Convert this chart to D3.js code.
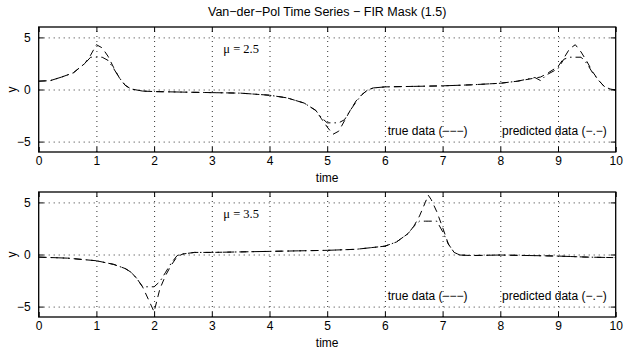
<!DOCTYPE html>
<html>
<head>
<meta charset="utf-8">
<script src="https://cdn.jsdelivr.net/npm/d3@7"></script>
<style>
  body { margin: 0; background: #fff; }
  svg text { font-family: "Liberation Sans", Arial, sans-serif; }
  .grid line { stroke: #333; stroke-dasharray: 1,4; }
  .grid path { display: none; }
  .ax path { display: none; }
  .ax line { stroke: #000; }
</style>
</head>
<body>
<div id="chart"></div>
<script>
// data
const titleText = 'Van\u2212der\u2212Pol Time Series \u2212 FIR Mask (1.5)'
const xTicks = [0, 1, 2, 3, 4, 5, 6, 7, 8, 9, 10]
const yTicks = [-5, 0, 5]
const yTickLabels = ['\u22125', '0', '5']

const timeTop = [0, 0.2, 0.4, 0.6, 0.8, 0.9, 1.0, 1.1, 1.2, 1.3, 1.4, 1.5, 1.6, 1.8, 2.0, 2.5, 3.0, 3.5, 4.0, 4.3, 4.6, 4.8, 4.9, 5.0, 5.1, 5.2, 5.3, 5.4, 5.5, 5.6, 5.7, 5.8, 6.0, 6.5, 7.0, 7.5, 8.0, 8.3, 8.6, 8.7, 8.8, 9.0, 9.1, 9.2, 9.3, 9.4, 9.5, 9.6, 9.7, 9.8, 9.9, 10.0]
const trueTop = [0.8, 0.85, 1.2, 1.6, 2.5, 3.3, 4.3, 4.0, 3.2, 2.1, 1.1, 0.4, 0.05, -0.15, -0.2, -0.25, -0.3, -0.35, -0.55, -0.8, -1.3, -2.0, -2.8, -3.6, -4.3, -4.0, -3.0, -2.0, -1.1, -0.5, -0.05, 0.15, 0.25, 0.3, 0.35, 0.45, 0.6, 0.8, 1.1, 1.2, 1.5, 2.2, 3.0, 3.9, 4.3, 3.6, 2.7, 1.7, 0.9, 0.3, 0.05, -0.05]
const predTop = [0.8, 0.85, 1.2, 1.6, 2.5, 3.1, 3.1, 3.1, 2.8, 2.0, 1.1, 0.4, 0.05, -0.15, -0.2, -0.25, -0.3, -0.35, -0.55, -0.8, -1.3, -2.0, -2.7, -3.2, -3.2, -3.2, -2.9, -2.0, -1.2, -0.5, -0.05, 0.15, 0.25, 0.3, 0.35, 0.45, 0.6, 0.8, 1.15, 0.85, 1.4, 2.0, 2.9, 3.1, 3.1, 3.1, 2.5, 1.6, 0.9, 0.3, 0.05, -0.05]

const timeBottom = [0, 0.5, 1.0, 1.3, 1.5, 1.6, 1.7, 1.8, 1.9, 2.0, 2.1, 2.2, 2.3, 2.4, 2.5, 2.7, 3.0, 3.5, 4.0, 4.5, 5.0, 5.5, 6.0, 6.2, 6.4, 6.5, 6.6, 6.7, 6.75, 6.8, 6.9, 7.0, 7.1, 7.2, 7.3, 7.5, 8.0, 8.5, 9.0, 9.5, 10.0]
const trueBottom = [-0.25, -0.35, -0.6, -0.95, -1.35, -1.7, -2.3, -3.1, -4.3, -5.5, -3.3, -2.0, -1.0, -0.2, 0.05, 0.2, 0.2, 0.25, 0.3, 0.35, 0.4, 0.5, 0.8, 1.2, 2.0, 2.7, 3.7, 5.0, 5.7, 5.3, 4.1, 2.6, 1.0, 0.2, -0.05, -0.1, -0.05, -0.1, -0.15, -0.25, -0.3]
const predBottom = [-0.25, -0.35, -0.6, -0.95, -1.35, -1.7, -2.3, -3.1, -3.1, -3.1, -2.6, -1.7, -0.8, -0.1, 0.05, 0.2, 0.2, 0.25, 0.3, 0.35, 0.4, 0.5, 0.8, 1.2, 2.0, 2.7, 3.2, 3.2, 3.2, 3.2, 3.2, 2.2, 1.0, 0.2, -0.05, -0.1, -0.05, -0.1, -0.15, -0.25, -0.3]

const muTop = '\u03bc = 2.5'
const muBottom = '\u03bc = 3.5'
const legendTrue = 'true data (\u2212\u2212\u2212)'
const legendPred = 'predicted data (\u2212.\u2212)'

// 1. Dimensions
let dimensions = {
    width: 624,
    height: 354,
    margin: { left: 38.7, right: 8.3 },
}
dimensions.boundedWidth = dimensions.width - dimensions.margin.left - dimensions.margin.right

// 2. Canvas
const wrapper = d3.select('#chart')
    .append('svg')
    .attr('width', dimensions.width)
    .attr('height', dimensions.height)

wrapper.append('text')
    .attr('x', dimensions.margin.left + dimensions.boundedWidth / 2)
    .attr('y', 16)
    .attr('text-anchor', 'middle')
    .attr('font-size', 12.5)
    .text(titleText)

// 3. Scales
const xScale = d3.scaleLinear()
    .domain([0, 10])
    .range([0, dimensions.boundedWidth])

function drawPanel(top, h, time, trueVals, predVals, mu) {
    const yScale = d3.scaleLinear()
        .domain([-6, 6])
        .range([h, 0])

    const bounds = wrapper.append('g')
        .attr('transform', `translate(${dimensions.margin.left},${top})`)

    // grid
    bounds.append('g')
        .attr('class', 'grid')
        .attr('transform', `translate(0,${h})`)
        .call(d3.axisBottom(xScale).tickValues(xTicks.slice(1, -1)).tickSize(-h).tickFormat(''))
    bounds.append('g')
        .attr('class', 'grid')
        .call(d3.axisLeft(yScale).tickValues(yTicks).tickSize(-dimensions.boundedWidth).tickFormat(''))

    // data
    const pts = time.map((t, i) => ({ t: t, a: trueVals[i], b: predVals[i] }))
    const lineTrue = d3.line().x(d => xScale(d.t)).y(d => yScale(d.a))
    const linePred = d3.line().x(d => xScale(d.t)).y(d => yScale(d.b))

    bounds.append('path')
        .attr('d', lineTrue(pts))
        .attr('fill', 'none')
        .attr('stroke', '#000')
        .attr('stroke-width', 1)
        .attr('stroke-dasharray', '7,5')
    bounds.append('path')
        .attr('d', linePred(pts))
        .attr('fill', 'none')
        .attr('stroke', '#000')
        .attr('stroke-width', 1)
        .attr('stroke-dasharray', '8,4,1.5,4')

    // ticks on all four sides, pointing inward
    const xAxis = bounds.append('g')
        .attr('class', 'ax')
        .attr('transform', `translate(0,${h})`)
        .call(d3.axisBottom(xScale).tickValues(xTicks).tickSize(-5).tickPadding(4))
    xAxis.selectAll('text').attr('font-size', 12).attr('fill', '#000').attr('dy', '0.75em')
    bounds.append('g')
        .attr('class', 'ax')
        .call(d3.axisTop(xScale).tickValues(xTicks).tickSize(-5).tickFormat(''))
    const yAxis = bounds.append('g')
        .attr('class', 'ax')
        .call(d3.axisLeft(yScale).tickValues(yTicks).tickSize(-5).tickPadding(8)
            .tickFormat((d, i) => yTickLabels[i]))
    yAxis.selectAll('text').attr('font-size', 12).attr('fill', '#000')
    bounds.append('g')
        .attr('class', 'ax')
        .attr('transform', `translate(${dimensions.boundedWidth},0)`)
        .call(d3.axisRight(yScale).tickValues(yTicks).tickSize(-5).tickFormat(''))

    // box
    bounds.append('rect')
        .attr('width', dimensions.boundedWidth)
        .attr('height', h)
        .attr('fill', 'none')
        .attr('stroke', '#000')
        .attr('stroke-width', 1.3)

    // labels
    bounds.append('text')
        .attr('x', dimensions.boundedWidth / 2)
        .attr('y', h + 30)
        .attr('text-anchor', 'middle')
        .attr('font-size', 12)
        .text('time')
    bounds.append('text')
        .attr('transform', `translate(-23,${yScale(0)}) rotate(-90)`)
        .attr('text-anchor', 'middle')
        .attr('font-size', 12)
        .text('y')
    bounds.append('text')
        .attr('x', xScale(3.2))
        .attr('y', yScale(3.5))
        .style('font-family', '"Liberation Serif", "Times New Roman", serif')
        .attr('font-size', 12.5)
        .text(mu)
    bounds.append('text')
        .attr('x', xScale(6.05))
        .attr('y', yScale(-4.4))
        .attr('font-size', 12)
        .text(legendTrue)
    bounds.append('text')
        .attr('x', xScale(8.03))
        .attr('y', yScale(-4.4))
        .attr('font-size', 12)
        .text(legendPred)
}

drawPanel(27, 125, timeTop, trueTop, predTop, muTop)
drawPanel(192, 125, timeBottom, trueBottom, predBottom, muBottom)
</script>
</body>
</html>
